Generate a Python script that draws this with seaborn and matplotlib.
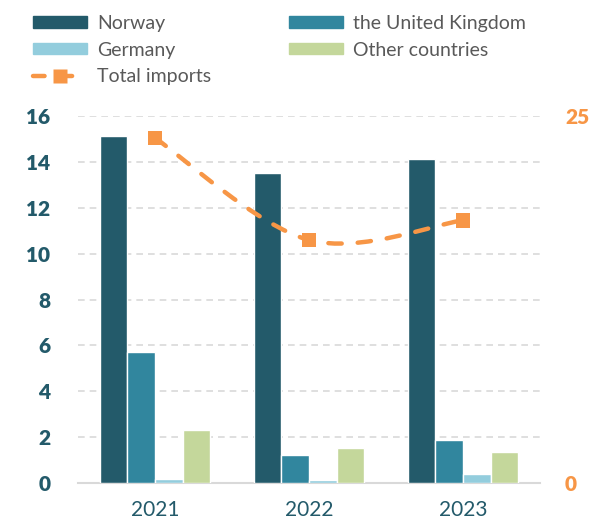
import numpy as np
import pandas as pd
import matplotlib
matplotlib.use("Agg")
import matplotlib.pyplot as plt
from matplotlib.path import Path
from matplotlib.patches import PathPatch, Patch
from matplotlib.lines import Line2D
import seaborn as sns

# DATA
years = ["2021", "2022", "2023"]
countries = ["Norway", "the United Kingdom", "Germany", "Other countries"]
norway = [15.13, 13.5, 14.12]
uk = [5.7, 1.23, 1.87]
germany = [0.17, 0.13, 0.4]
other = [2.31, 1.53, 1.35]
total_imports = [23.5, 16.55, 17.9]

colors = ["#235A6A", "#31869E", "#93CDDD", "#C4D79B"]
orange = "#F79646"
teal_text = "#235A6A"

df = pd.DataFrame({
    "year": years * 4,
    "country": [c for c in countries for _ in years],
    "value": norway + uk + germany + other,
})

sns.set_style("white")
plt.rcParams["font.family"] = ["Lato", "DejaVu Sans"]

fig = plt.figure(figsize=(6.05, 5.24), dpi=100)
ax = fig.add_axes([0.129, 0.0782, 0.7636, 0.7004])

sns.barplot(data=df, x="year", y="value", hue="country", hue_order=countries,
            palette=colors, saturation=1, width=0.72, edgecolor="white",
            linewidth=1, ax=ax, legend=False, zorder=3)

ax.set_ylim(0, 16)
ax.set_yticks(range(0, 17, 2))
ax.set_xlim(-0.5, 2.5)
ax.grid(axis="y", color="#D9D9D9", linestyle=(0, (4, 3)), linewidth=1.2, zorder=0)
ax.set_axisbelow(True)
for s in ["top", "right", "left"]:
    ax.spines[s].set_visible(False)
ax.spines["bottom"].set_color("#D9D9D9")
ax.spines["bottom"].set_linewidth(1.5)
ax.set_xlabel("")
ax.set_ylabel("")
ax.tick_params(axis="y", length=0, pad=20, labelsize=15, labelcolor=teal_text)
ax.tick_params(axis="x", length=0, pad=12, labelsize=15, labelcolor=teal_text)
for lab in ax.get_yticklabels():
    lab.set_fontweight("heavy")

# secondary axis for total imports
ax2 = ax.twinx()
ax2.set_ylim(0, 25)
ax2.set_yticks([0, 25])
for s in ax2.spines.values():
    s.set_visible(False)
ax2.tick_params(axis="y", length=0, pad=18, labelsize=15, labelcolor=orange)
for lab in ax2.get_yticklabels():
    lab.set_fontweight("heavy")

# smoothed line (catmull-rom style bezier through the points)
pts = np.column_stack([np.arange(len(total_imports)), total_imports]).astype(float)
verts = [pts[0]]
codes = [Path.MOVETO]
for i in range(len(pts) - 1):
    p0 = pts[i - 1] if i > 0 else pts[i]
    p1, p2 = pts[i], pts[i + 1]
    p3 = pts[i + 2] if i + 2 < len(pts) else pts[i + 1]
    verts += [p1 + (p2 - p0) / 6, p2 - (p3 - p1) / 6, p2]
    codes += [Path.CURVE4] * 3
curve = PathPatch(Path(verts, codes), facecolor="none", edgecolor=orange,
                  linewidth=3.2, linestyle=(0, (3.0, 3.6)), capstyle="round",
                  zorder=4)
ax2.add_patch(curve)
sns.scatterplot(x=np.arange(len(years)), y=total_imports, marker="s", s=110,
                color=orange, edgecolor="none", ax=ax2, zorder=5)

# legend
handles = [Patch(color=c) for c in colors]
line_h = Line2D([], [], color=orange, linewidth=3.2, linestyle=(0, (2.6, 3.6)),
                dash_capstyle="round", marker="s", markersize=10,
                markeredgecolor="none")
order = [handles[0], handles[2], line_h, handles[1], handles[3]]
labels = [countries[0], countries[2], "Total imports", countries[1], countries[3]]
leg = fig.legend(order, labels, loc="upper left", bbox_to_anchor=(0.025, 1.005),
                 ncol=2, frameon=False, fontsize=14, handlelength=2.8,
                 handleheight=0.5, columnspacing=4.0, labelspacing=0.5,
                 handletextpad=0.5, labelcolor="#595959")

fig.savefig("out.png", dpi=100)
